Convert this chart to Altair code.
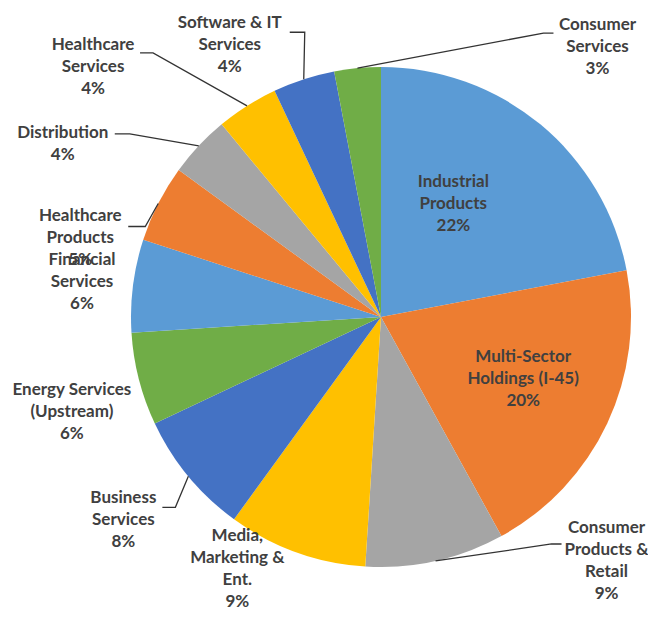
import altair as alt

# ---- data ----
categories = ["Industrial Products", "Multi-Sector Holdings (I-45)", "Consumer Products & Retail",
              "Media, Marketing & Ent.", "Business Services", "Energy Services (Upstream)",
              "Financial Services", "Healthcare Products", "Distribution", "Healthcare Services",
              "Software & IT Services", "Consumer Services"]
values = [22, 20, 9, 9, 8, 6, 6, 5, 4, 4, 4, 3]
label_lines = ["Industrial\nProducts", "Multi-Sector\nHoldings (I-45)", "Consumer\nProducts &\nRetail",
               "Media,\nMarketing &\nEnt.", "Business\nServices", "Energy Services\n(Upstream)",
               "Financial\nServices", "Healthcare\nProducts", "Distribution", "Healthcare\nServices",
               "Software & IT\nServices", "Consumer\nServices"]
colors = ["#5B9BD5", "#ED7D31", "#A5A5A5", "#FFC000", "#4472C4", "#70AD47",
          "#5B9BD5", "#ED7D31", "#A5A5A5", "#FFC000", "#4472C4", "#70AD47"]

# ---- label layout (offsets from the slice's outer-edge midpoint, px) ----
label_dx = [-87, -84, 171, -59, -65, -67, -51, -78, -136, -154, -74, 240]
label_dy = [80, -44, 0, 17, 44, 33, -4, 34, -2, -39, -34, -21]
leader = [0, 0, 1, 0, 1, 0, 0, 1, 1, 1, 1, 1]
leader_dx = [0, 0, -45, 0, 39, 0, 0, 48, 52, 47, 60, -44]
leader_dy = [0, 0, -17, 0, -13, 0, 0, -11, -10, -14, -13, -14]
elbow = [0, 0, -10, 0, 13, 0, 0, 17, 15, 13, 15, -10]

CX, CY, R = 373, 309, 250
LH = 22

records = []
for i, c in enumerate(categories):
    records.append(dict(idx=i, cat=c, value=values[i], lab=label_lines[i],
                        nl=label_lines[i].count("\n") + 2,
                        ldx=label_dx[i], ldy=label_dy[i], lead=leader[i],
                        pdx=leader_dx[i], pdy=leader_dy[i], elb=elbow[i]))
data = alt.Data(values=records)

color_scale = alt.Scale(domain=categories, range=colors)

arcs = alt.Chart(data).mark_arc(outerRadius=R, stroke=None).encode(
    theta=alt.Theta("value:Q", stack=True),
    order=alt.Order("idx:Q"),
    color=alt.Color("cat:N", scale=color_scale, legend=None),
    x=alt.value(CX), y=alt.value(CY),
)

base = alt.Chart(data).transform_window(
    cum="sum(value)", sort=[alt.SortField("idx")], frame=[None, 0]
).transform_joinaggregate(
    total="sum(value)"
).transform_calculate(
    a="(datum.cum - datum.value/2) / datum.total * 2 * PI"
).transform_calculate(
    ex=f"{CX} + {R}*sin(datum.a)", ey=f"{CY} - {R}*cos(datum.a)"
)

texts = base.transform_calculate(
    tx="datum.ex + datum.ldx",
    ty=f"datum.ey + datum.ldy - (datum.nl - 1) * {LH} / 2",
    txt="datum.lab + '\\n' + datum.value + '%'"
).mark_text(
    font="Lato", fontSize=17, fontWeight="bold", color="#404040",
    lineBreak="\n", lineHeight=LH, align="center", baseline="middle"
).encode(
    x=alt.X("tx:Q", scale=None, axis=None),
    y=alt.Y("ty:Q", scale=None, axis=None),
    text="txt:N",
)

lines = base.transform_filter("datum.lead == 1").transform_calculate(
    pts="[0, 1, 2]"
).transform_flatten(["pts"]).transform_calculate(
    px2="datum.ex + datum.ldx + datum.pdx", py2="datum.ey + datum.ldy + datum.pdy"
).transform_calculate(
    lx="datum.pts == 0 ? datum.ex : (datum.pts == 1 ? datum.px2 + datum.elb : datum.px2)",
    ly="datum.pts == 0 ? datum.ey : datum.py2",
).mark_line(color="#333333", strokeWidth=1.3).encode(
    x=alt.X("lx:Q", scale=None, axis=None),
    y=alt.Y("ly:Q", scale=None, axis=None),
    detail="cat:N",
    order=alt.Order("pts:Q"),
)

chart = alt.layer(arcs, lines, texts).properties(
    width=640, height=603, padding=0, autosize="none"
).configure_view(stroke=None)

chart.save("out.html", embed_options={"renderer": "svg", "actions": False})
